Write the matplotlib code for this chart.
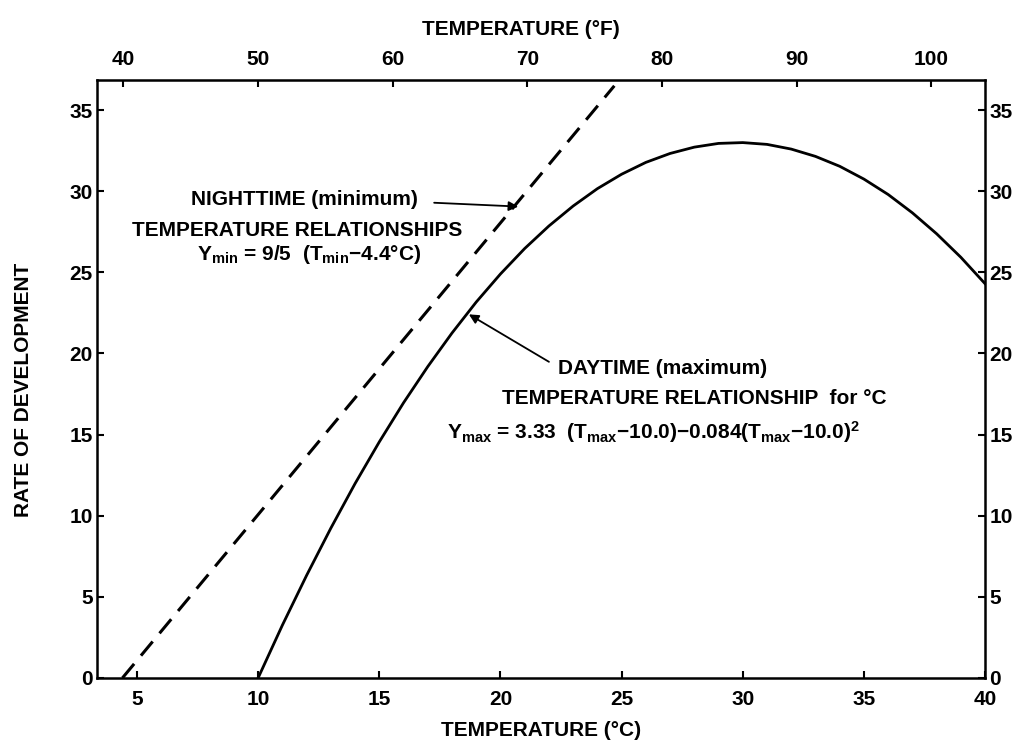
import matplotlib
matplotlib.use('Agg')
import matplotlib.pyplot as plt

# Daytime (maximum) curve
temp_day = [10, 11, 12, 13, 14, 15, 16, 17, 18, 19, 20, 21, 22, 23, 24, 25,
            26, 27, 28, 29, 30, 31, 32, 33, 34, 35, 36, 37, 38, 39, 40]
rate_day = [0.0, 3.25, 6.32, 9.23, 11.98, 14.55, 16.96, 19.19, 21.26, 23.17,
            24.9, 26.47, 27.86, 29.09, 30.16, 31.05, 31.78, 32.33, 32.72, 32.95,
            33.0, 32.89, 32.6, 32.15, 31.54, 30.75, 29.8, 28.67, 27.38, 25.93, 24.3]

# Nighttime (minimum) straight line
temp_night = [4.4, 24.7]
rate_night = [0.0, 36.5]

x_ticks = [5, 10, 15, 20, 25, 30, 35, 40]
f_ticks = [40, 50, 60, 70, 80, 90, 100]
y_ticks = [0, 5, 10, 15, 20, 25, 30, 35]

plt.rcParams['font.family'] = ['Liberation Sans', 'DejaVu Sans']
plt.rcParams['font.weight'] = 'bold'
plt.rcParams['mathtext.fontset'] = 'custom'
plt.rcParams['mathtext.bf'] = 'Liberation Sans:bold'
plt.rcParams['mathtext.rm'] = 'Liberation Sans:bold'
plt.rcParams['mathtext.default'] = 'bf'

fig = plt.figure(figsize=(10.24, 7.42), dpi=100)
ax = fig.add_axes([0.0947, 0.0863, 0.8673, 0.8057])

ax.plot(temp_day, rate_day, color='black', lw=2.0)
ax.plot(temp_night, rate_night, color='black', lw=2.2, dashes=(6, 3.5))

ax.set_xlim(3.35, 40)
ax.set_ylim(0, 36.85)
ax.set_xticks(x_ticks)
ax.set_yticks(y_ticks)
for s in ax.spines.values():
    s.set_linewidth(1.8)
ax.tick_params(axis='both', direction='in', length=5, width=1.5, labelsize=15)
ax.tick_params(axis='y', right=True, labelright=True, pad=3)
ax.tick_params(axis='x', pad=9)

ax.set_xlabel('TEMPERATURE (°C)', fontsize=15, fontweight='bold', labelpad=8)
ax.set_ylabel('RATE OF DEVELOPMENT', fontsize=15, fontweight='bold')
ax.yaxis.set_label_coords(-0.072, 0.4816)

def c2f(c):
    return c * 9.0 / 5.0 + 32.0

def f2c(f):
    return (f - 32.0) * 5.0 / 9.0

top = ax.secondary_xaxis('top', functions=(c2f, f2c))
top.set_xticks(f_ticks)
top.tick_params(direction='in', length=5, width=1.5, labelsize=15, pad=8)
top.set_xlabel('TEMPERATURE (°F)', fontsize=15, fontweight='bold', labelpad=11)
top.xaxis.label.set_x(0.4775)

# Nighttime annotation
ax.annotate('', xy=(20.85, 29.05), xytext=(17.15, 29.3),
            arrowprops=dict(arrowstyle='-|>', color='black', lw=1.3,
                            mutation_scale=14))
ax.text(11.9, 29.5, 'NIGHTTIME (minimum)', ha='center', va='center', fontsize=15)
ax.text(11.6, 27.6, 'TEMPERATURE RELATIONSHIPS', ha='center', va='center', fontsize=15)
ax.text(12.1, 26.1, 'Y$_{min}$ = 9/5  (T$_{min}$$-$4.4°C)', ha='center', va='center',
        fontsize=15)

# Daytime annotation
ax.annotate('', xy=(18.6, 22.5), xytext=(22.1, 19.4),
            arrowprops=dict(arrowstyle='-|>', color='black', lw=1.3,
                            mutation_scale=14))
ax.text(26.7, 19.1, 'DAYTIME (maximum)', ha='center', va='center', fontsize=15)
ax.text(28.0, 17.25, 'TEMPERATURE RELATIONSHIP  for °C', ha='center', va='center',
        fontsize=15)
ax.text(26.3, 15.15,
        'Y$_{max}$ = 3.33  (T$_{max}$$-$10.0)$-$0.084(T$_{max}$$-$10.0)$^{2}$',
        ha='center', va='center', fontsize=15)

plt.savefig('out.png', dpi=100)
